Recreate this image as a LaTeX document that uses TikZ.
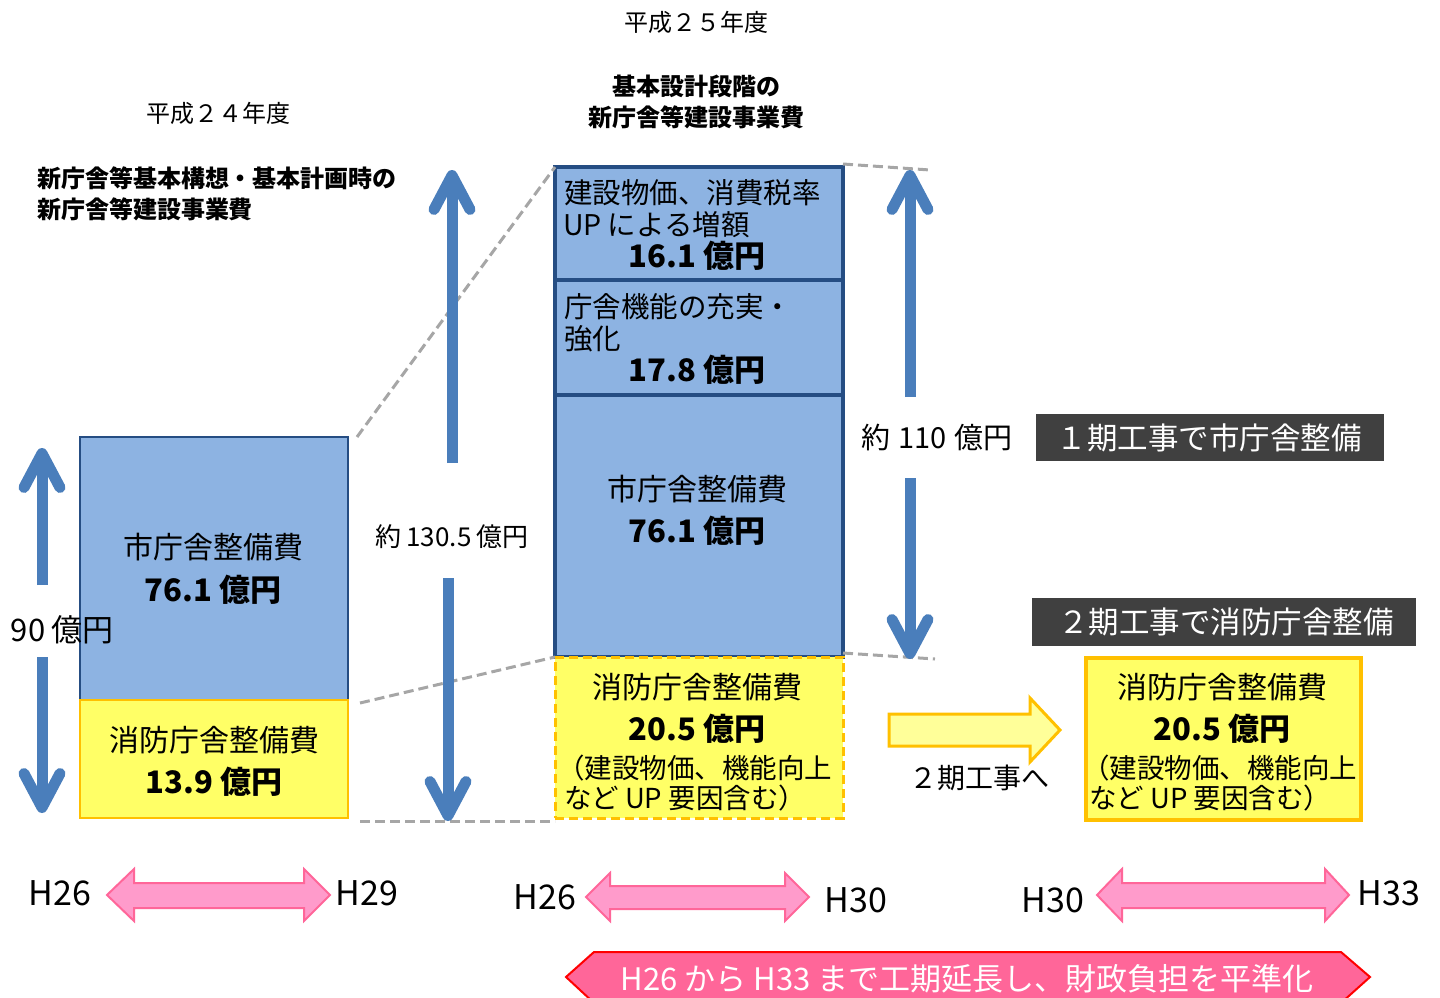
\documentclass[tikz,border=0pt]{standalone}
\usepackage{fontspec}
\setmainfont{Noto Sans CJK JP}
\usetikzlibrary{arrows.meta}
\definecolor{boxblue}{HTML}{8DB3E2}
\definecolor{boxborder}{HTML}{254D83}
\definecolor{arrblue}{HTML}{4A7EBB}
\definecolor{yel}{HTML}{FFFF66}
\definecolor{yelborder}{HTML}{FFC000}
\definecolor{yelarrow}{HTML}{FFFF99}
\definecolor{darklab}{HTML}{404040}
\definecolor{pinkfill}{HTML}{FF9BCB}
\definecolor{pinkborder}{HTML}{FF6699}
\definecolor{bannerfill}{HTML}{FF6699}
\definecolor{dashgray}{HTML}{A6A6A6}
\newcommand\fsz[1]{\fontsize{#1}{#1}\selectfont}
\tikzset{
  txt/.style={inner sep=0pt, outer sep=0pt, text=black},
  boxbase/.style={inner sep=0pt, outer sep=0pt, anchor=north west},
  blueboxthin/.style={boxbase, fill=boxblue, draw=boxborder, line width=1.6pt},
  blueboxthick/.style={boxbase, fill=boxblue, draw=boxborder, line width=3.5pt},
  yelbox/.style={boxbase, fill=yel, draw=yelborder, line width=1.6pt},
  yelboxdash/.style={boxbase, fill=yel, draw=yelborder, line width=3pt, dash pattern=on 9pt off 5pt},
  yelboxthick/.style={boxbase, fill=yel, draw=yelborder, line width=3.5pt},
  darkbox/.style={boxbase, fill=darklab, text=white},
  barrow/.style={draw=arrblue, line width=11pt, -{Straight Barb[length=34pt,width=36pt,round]}},
  dashline/.style={draw=dashgray, line width=3pt, dash pattern=on 10pt off 5pt},
  pinkarrow/.style={fill=pinkfill, draw=pinkborder, line width=2pt, line join=miter},
}
\begin{document}
\begin{tikzpicture}[x=1pt,y=-1pt]
\useasboundingbox (0,0) rectangle (1440,998);

% titles
\node[txt, font=\fsz{24}] (t25) at (696,22) {平成２５年度};
\node[txt, font=\fsz{24}\bfseries] (t25a) at (696,86) {基本設計段階の};
\node[txt, font=\fsz{24}\bfseries] (t25b) at (696,117) {新庁舎等建設事業費};
\node[txt, font=\fsz{24}] (t24) at (218,113) {平成２４年度};
\node[txt, font=\fsz{24}\bfseries, anchor=west] (t24a) at (37,178) {新庁舎等基本構想・基本計画時の};
\node[txt, font=\fsz{24}\bfseries, anchor=west] (t24b) at (37,209) {新庁舎等建設事業費};

\coordinate (rt1) at (930,170);
\coordinate (rt2) at (935,659);

% left boxes
\node[blueboxthin, minimum width=268pt, minimum height=263pt] (lb) at (80,437) {};
\node[yelbox, minimum width=268pt, minimum height=118pt] (ly) at (80,700) {};
\node[txt, font=\fsz{30}] (lbt1) at (213,547) {市庁舎整備費};
\node[txt, font=\fsz{31}\bfseries] (lbt2) at (213,590) {76.1 億円};
\node[txt, font=\fsz{30}] (lyt1) at (214,740) {消防庁舎整備費};
\node[txt, font=\fsz{31}\bfseries] (lyt2) at (214,782) {13.9 億円};

% middle boxes
\node[blueboxthick, minimum width=288pt, minimum height=113pt] (m1) at (555,167) {};
\node[blueboxthick, minimum width=288pt, minimum height=115pt] (m2) at (555,280) {};
\node[blueboxthick, minimum width=288pt, minimum height=262pt] (m3) at (555,395) {};
\node[yelboxdash, minimum width=288pt, minimum height=161pt] (m4) at (555,657) {};

\draw[dashline] ([xshift=9pt]lb.north east) -- (m1.north west);
\draw[dashline] ([xshift=12pt,yshift=-3pt]ly.north east) -- (m4.north west);
\draw[dashline] ([xshift=12pt,yshift=-3pt]ly.south east) -- ([yshift=-3pt]m4.south west);
\draw[dashline] ([yshift=3pt]m1.north east) -- (rt1);
\draw[dashline] ([yshift=4pt]m4.north east) -- (rt2);

\node[txt, font=\fsz{28.5}, anchor=west] (m1a) at (564,193) {建設物価、消費税率};
\node[txt, font=\fsz{28.5}, anchor=west] (m1b) at (563,225) {UP による増額};
\node[txt, font=\fsz{31}\bfseries] (m1c) at (697,256) {16.1 億円};
\node[txt, font=\fsz{28.5}, anchor=west] (m2a) at (564,307) {庁舎機能の充実・};
\node[txt, font=\fsz{28.5}, anchor=west] (m2b) at (564,339) {強化};
\node[txt, font=\fsz{31}\bfseries] (m2c) at (697,370) {17.8 億円};
\node[txt, font=\fsz{30}] (m3a) at (697,489) {市庁舎整備費};
\node[txt, font=\fsz{31}\bfseries] (m3b) at (697,531) {76.1 億円};
\node[txt, font=\fsz{30}] (m4a) at (697,687) {消防庁舎整備費};
\node[txt, font=\fsz{31}\bfseries] (m4b) at (697,729) {20.5 億円};
\node[txt, font=\fsz{27.5}, anchor=west] (m4c) at (557,768) {（建設物価、機能向上};
\node[txt, font=\fsz{27.5}, anchor=west] (m4d) at (564,798) {など UP 要因含む）};

% right yellow box
\node[yelboxthick, minimum width=275pt, minimum height=162pt] (ry) at (1086,658) {};
\node[txt, font=\fsz{30}] (rya) at (1222,687) {消防庁舎整備費};
\node[txt, font=\fsz{31}\bfseries] (ryb) at (1222,729) {20.5 億円};
\node[txt, font=\fsz{27.5}, anchor=west] (ryc) at (1082,768) {（建設物価、機能向上};
\node[txt, font=\fsz{27.5}, anchor=west] (ryd) at (1089,798) {など UP 要因含む）};

% dark labels
\node[darkbox, minimum width=348pt, minimum height=47pt] (d1) at (1036,414) {};
\node[txt, text=white, font=\fsz{30.5}] (d1t) at ([xshift=-1pt]d1.center) {１期工事で市庁舎整備};
\node[darkbox, minimum width=384pt, minimum height=48pt] (d2) at (1032,598) {};
\node[txt, text=white, font=\fsz{30.5}] (d2t) at ([xshift=2pt]d2.center) {２期工事で消防庁舎整備};

% blue dimension arrows
\node[txt, font=\fsz{31}] (l90) at (62,630) {90\hspace{6pt}億円};
\coordinate (l90u) at (42,585);
\coordinate (l90ut) at (42,448);
\coordinate (l90d) at (42,657);
\coordinate (l90dt) at (42,813);
\draw[barrow] (l90u) -- (l90ut);
\draw[barrow] (l90d) -- (l90dt);

\node[txt, font=\fsz{26}] (l130) at (452,537) {約\hspace{5pt}130.5\hspace{5pt}億円};
\coordinate (l130u) at (452,463);
\coordinate (l130ut) at (452,170);
\coordinate (l130d) at (448,578);
\coordinate (l130dt) at (448,821);
\draw[barrow] (l130u) -- (l130ut);
\draw[barrow] (l130d) -- (l130dt);

\node[txt, font=\fsz{29}] (l110) at (937,437) {約\hspace{8pt}110\hspace{8pt}億円};
\coordinate (l110u) at (910,397);
\coordinate (l110ut) at (910,170);
\coordinate (l110d) at (910,478);
\coordinate (l110dt) at (910,659);
\draw[barrow] (l110u) -- (l110ut);
\draw[barrow] (l110d) -- (l110dt);

% yellow block arrow
\filldraw[fill=yelarrow, draw=yelborder, line width=3pt, line join=miter]
  (889,714) -- (1030,714) -- (1030,698) -- (1060,730) -- (1030,762) -- (1030,746) -- (889,746) -- cycle;
\node[txt, font=\fsz{28}] (to2) at (979,778) {２期工事へ};

% pink double arrows
\filldraw[pinkarrow] (107,895) -- (134,869) -- (134,883) -- (304,883) -- (304,869) -- (330,895)
  -- (304,921) -- (304,908) -- (134,908) -- (134,921) -- cycle;
\filldraw[pinkarrow] (586,897) -- (610,873) -- (610,886) -- (785,886) -- (785,873) -- (809,897)
  -- (785,921) -- (785,909) -- (610,909) -- (610,921) -- cycle;
\filldraw[pinkarrow] (1097,895) -- (1122,869) -- (1122,883) -- (1325,883) -- (1325,869) -- (1349,895)
  -- (1325,921) -- (1325,908) -- (1122,908) -- (1122,921) -- cycle;

\node[txt, font=\fsz{34}] (h1) at (60,893) {H26};
\node[txt, font=\fsz{34}] (h2) at (367,893) {H29};
\node[txt, font=\fsz{34}] (h3) at (545,897) {H26};
\node[txt, font=\fsz{34}] (h4) at (856,900) {H30};
\node[txt, font=\fsz{34}] (h5) at (1053,900) {H30};
\node[txt, font=\fsz{34}] (h6) at (1389,893) {H33};

% banner
\filldraw[fill=bannerfill, draw=red, line width=2pt, line join=miter]
  (566,977) -- (594,952) -- (1341,952) -- (1370,977) -- (1341,1003) -- (594,1003) -- cycle;
\node[txt, text=white, font=\fsz{31}] (bt) at (967,979) {H26 から H33 まで工期延長し、財政負担を平準化};
\end{tikzpicture}
\end{document}
